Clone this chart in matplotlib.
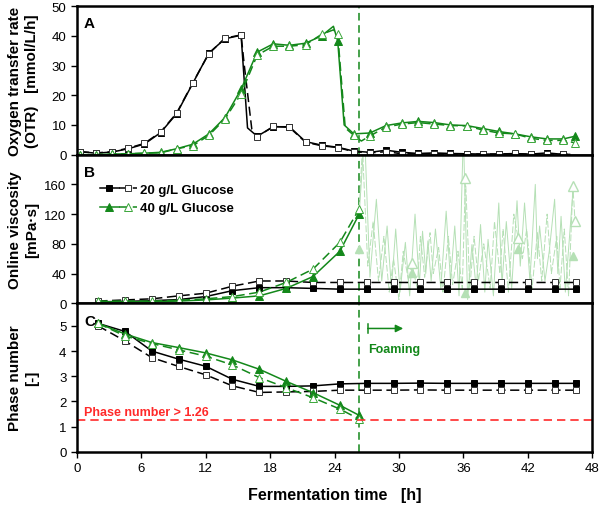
import numpy as np
import matplotlib
matplotlib.use("Agg")
import matplotlib.pyplot as plt
from matplotlib.legend_handler import HandlerTuple

plt.rcParams["font.family"] = ["Liberation Sans", "DejaVu Sans"]

GREEN = "#13881a"
LIGHT = "#b5e0b5"
RED = "#ff2a2a"

# ---------------- A: oxygen transfer rate ----------------
otr_t = [0.3, 1.8, 3.3, 4.8, 6.3, 7.8, 9.3, 10.8, 12.3, 13.8, 15.3, 16.8, 18.3, 19.8,
         21.3, 22.8, 24.3, 25.8, 27.3, 28.8, 30.3, 31.8, 33.3, 34.8, 36.3, 37.8, 39.3,
         40.8, 42.3, 43.8, 45.3]
otr20_fill = [1.0, 0.5, 0.9, 2.0, 3.6, 7.4, 13.8, 24.0, 34.2, 39.0, 40.2, 6.2, 9.4, 9.4,
              4.4, 3.2, 2.5, 1.2, 0.8, 1.5, 0.8, 0.4, 0.6, 0.4, 0.3, 0.2, 0.2, 0.3, 0.2, 0.6, 0.1]
otr20_open = [1.0, 0.6, 1.0, 2.2, 3.8, 7.6, 14.0, 24.2, 34.0, 39.2, 40.3, 6.0, 9.5, 9.2,
              4.2, 3.0, 2.4, 1.0, 0.6, 1.0, 0.3, 0.3, 0.3, 0.2, 0.2, 0.2, 0.2, 0.4, 0.1, 0.3, 0.1]
otr40_t = otr_t + [46.4]
otr40_fill = [0.0, 0.0, 0.2, 0.3, 0.5, 0.8, 2.0, 3.5, 7.0, 12.5, 22.0, 34.5, 37.3, 36.8,
              37.5, 40.0, 38.2, 7.0, 7.3, 9.8, 10.7, 11.2, 10.8, 10.0, 9.8, 8.8, 7.8, 7.0,
              6.0, 5.3, 5.3, 6.2]
otr40_open = [0.0, 0.0, 0.2, 0.3, 0.5, 0.6, 2.0, 3.0, 6.5, 12.0, 20.5, 33.5, 36.5, 36.5,
              37.0, 40.5, 40.5, 6.5, 6.3, 9.3, 10.3, 10.8, 10.3, 9.8, 9.7, 8.3, 7.3, 7.0,
              5.5, 4.8, 4.8, 4.0]
# extra line points without markers (fast drops, peaks, line ends)
otr20_fill_x = ([15.9, 45.9], [9.0, 0.1])
otr20_open_x = ([15.6, 16.3, 45.9], [30.0, 8.5, 0.1])
otr40_fill_x = ([23.9, 24.9], [43.2, 10.0])
otr40_open_x = ([23.9, 25.0, 26.5], [42.0, 9.0, 4.6])

# ---------------- B: online viscosity ----------------
visc_t20 = [2, 4.5, 7, 9.5, 12, 14.5, 17, 19.5, 22, 24.5, 27, 29.5, 32, 34.5, 37, 39.5,
            42, 44.5, 46.5]
visc20_fill = [2, 2.5, 3.5, 5, 9, 17, 21, 21, 20, 19, 19, 19, 19, 19, 19, 19, 19, 19, 19]
visc20_open = [3, 4.5, 6, 10, 13.5, 23, 30, 30, 28, 28, 28, 28, 28, 28, 28, 28, 28, 28, 28]
visc_t40 = [2, 4.5, 7, 9.5, 12, 14.5, 17, 19.5, 22, 24.5, 26.3]
visc40_fill = [2, 2, 2, 3, 4.5, 7, 10, 20, 36, 70, 120]
visc40_open = [3, 3, 3, 4, 6, 9, 15, 28, 46, 82, 127]

# viscosity after foaming started (faded)
foam_a_t = [26.3, 26.8, 27.3, 27.9, 28.4, 28.9, 29.3, 29.7, 30.1, 30.6, 31.0, 31.5, 31.9,
            32.2, 32.5, 32.7, 33.0, 33.4, 33.9, 34.4, 34.8, 35.2, 35.6, 36.0, 36.4, 36.8,
            37.2, 37.6, 38.0, 38.3, 38.8, 39.3, 39.6, 40.0, 40.5, 41.0, 41.3, 41.7, 42.2,
            42.7, 42.9, 43.1, 43.6, 44.0, 44.5, 44.8, 45.1, 45.5, 46.2]
foam_a = [120, 230, 35, 140, 30, 104, 20, 100, 15, 82, 10, 120, 25, 97, 40, 84, 30, 100,
          20, 124, 30, 104, 10, 230, 5, 79, 20, 106, 15, 86, 10, 135, 25, 110, 20, 138, 50,
          135, 30, 160, 60, 104, 30, 70, 140, 40, 117, 15, 150]
foam_b_t = [26.3, 26.6, 27.1, 27.6, 28.1, 28.6, 29.1, 29.5, 30.0, 30.4, 30.9, 31.2, 31.7,
            32.0, 32.4, 32.9, 33.2, 33.7, 34.1, 34.6, 35.0, 35.5, 35.9, 36.2, 36.6, 37.0,
            37.4, 37.9, 38.5, 38.9, 39.4, 39.7, 40.2, 40.7, 41.1, 41.5, 41.9, 42.4, 42.9,
            43.3, 43.8, 44.2, 44.7, 45.0, 45.4, 45.8, 46.2, 46.4]
foam_b = [127, 210, 50, 110, 30, 90, 15, 60, 5, 70, 30, 54, 20, 90, 35, 95, 40, 75, 15, 90,
          25, 70, 20, 169, 20, 90, 30, 80, 20, 110, 40, 100, 15, 120, 88, 60, 100, 20, 95,
          30, 120, 40, 90, 20, 100, 10, 158, 111]
foam_fill_t = [26.3, 31.2, 36.2, 41.1, 46.2]
foam_fill = [73, 41, 14, 73, 64]
foam_open_t = [31.2, 36.2, 41.1, 46.2, 46.4]
foam_open = [54, 169, 88, 158, 111]

# ---------------- C: phase number ----------------
phase20_fill = [5.1, 4.78, 4.0, 3.68, 3.4, 2.88, 2.6, 2.6, 2.62, 2.7, 2.72, 2.72, 2.73,
                2.72, 2.72, 2.72, 2.72, 2.72, 2.72]
phase20_open = [5.0, 4.4, 3.74, 3.39, 3.06, 2.62, 2.36, 2.38, 2.4, 2.45, 2.45, 2.45, 2.46,
                2.45, 2.45, 2.45, 2.45, 2.45, 2.45]
phase40_fill = [5.1, 4.68, 4.34, 4.14, 3.93, 3.65, 3.28, 2.8, 2.35, 1.85, 1.45]
phase40_open = [5.1, 4.6, 4.3, 4.05, 3.8, 3.45, 2.95, 2.55, 2.15, 1.7, 1.3]

PHASE_LIMIT = 1.26
FOAM_START = 26.3


def merge(t, y, extra):
    """merge marker points with extra line-only points, return marker indices"""
    tt = list(t) + list(extra[0])
    yy = list(y) + list(extra[1])
    order = np.argsort(tt, kind="stable")
    marks = [i for i, k in enumerate(order) if k < len(t)]
    return np.array(tt)[order], np.array(yy)[order], marks


DASH = (0, (6, 3))
STYLE = {
    "fill20": dict(color="black", ls="-", marker="s", ms=4.3, mfc="black", mec="black", mew=0.7, lw=1.1),
    "open20": dict(color="black", ls=DASH, marker="s", ms=4.6, mfc="white", mec="#333333", mew=0.7, lw=1.1),
    "fill40": dict(color=GREEN, ls="-", marker="^", ms=5.6, mfc=GREEN, mec=GREEN, mew=0.7, lw=1.1),
    "open40": dict(color=GREEN, ls=DASH, marker="^", ms=6.2, mfc="white", mec="#3aa63a", mew=0.7, lw=1.1),
}

fig, axes = plt.subplots(3, 1, figsize=(6.0, 5.06), dpi=100, sharex=True)
fig.subplots_adjust(left=0.128, right=0.987, top=0.986, bottom=0.105, hspace=0)
axA, axB, axC = axes

# --- A ---
for t, y, ex, key in [(otr_t, otr20_fill, otr20_fill_x, "fill20"),
                      (otr_t, otr20_open, otr20_open_x, "open20"),
                      (otr40_t, otr40_fill, otr40_fill_x, "fill40"),
                      (otr40_t, otr40_open, otr40_open_x, "open40")]:
    tt, yy, mk = merge(t, y, ex)
    axA.plot(tt, yy, markevery=mk, **STYLE[key])
axA.set_ylim(0, 50)
axA.set_yticks([0, 10, 20, 30, 40, 50])
axA.set_ylabel("Oxygen transfer rate\n(OTR)   [mmol/L/h]")

# --- B ---
axB.plot(foam_a_t, foam_a, color=LIGHT, lw=0.7, zorder=1)
axB.plot(foam_b_t, foam_b, color=LIGHT, lw=0.7, ls=(0, (7, 2)), zorder=1)
axB.plot(foam_fill_t, foam_fill, ls="none", marker="^", ms=6, mfc=LIGHT, mec=LIGHT, zorder=1)
axB.plot(foam_open_t, foam_open, ls="none", marker="^", ms=7, mfc="white", mec=LIGHT, zorder=1)
hB = {}
hB["fill20"], = axB.plot(visc_t20, visc20_fill, **STYLE["fill20"])
hB["open20"], = axB.plot(visc_t20, visc20_open, **STYLE["open20"])
hB["fill40"], = axB.plot(visc_t40, visc40_fill, **STYLE["fill40"])
hB["open40"], = axB.plot(visc_t40, visc40_open, **STYLE["open40"])
axB.set_ylim(0, 200)
axB.set_yticks([0, 40, 80, 120, 160])
axB.set_ylabel("Online viscosity\n[mPa\u00b7s]")
axB.legend([(hB["fill20"], hB["open20"]), (hB["fill40"], hB["open40"])],
           ["20 g/L Glucose", "40 g/L Glucose"],
           handler_map={tuple: HandlerTuple(ndivide=None, pad=0.0)},
           loc="upper left", bbox_to_anchor=(0.035, 0.84), frameon=False,
           handlelength=2.8, handletextpad=0.25, labelspacing=0.45, borderaxespad=0,
           prop={"weight": "bold", "size": 9.5})

# --- C ---
axC.plot(visc_t20, phase20_fill, **STYLE["fill20"])
axC.plot(visc_t20, phase20_open, **STYLE["open20"])
axC.plot(visc_t40, phase40_fill, **STYLE["fill40"])
axC.plot(visc_t40, phase40_open, **STYLE["open40"])
axC.axhline(PHASE_LIMIT, color=RED, lw=1.2, ls=(0, (5, 3)))
axC.text(0.7, PHASE_LIMIT + 0.08, "Phase number > 1.26", color=RED, fontsize=9,
         fontweight="bold", va="bottom", ha="left")
axC.annotate("", xy=(30.4, 4.9), xytext=(27.1, 4.9),
             arrowprops=dict(arrowstyle="-|>", color=GREEN, lw=1.1, mutation_scale=11,
                             shrinkA=0, shrinkB=0))
axC.plot([27.1, 27.1], [4.72, 5.08], color=GREEN, lw=1.1)
axC.text(27.1, 4.1, "Foaming", color=GREEN, fontsize=9, fontweight="bold",
         va="center", ha="left")
axC.set_ylim(0, 5.9)
axC.set_yticks([0, 1, 2, 3, 4, 5])
axC.set_ylabel("Phase number\n[-]")
axC.set_xlim(0, 48)
axC.set_xticks(range(0, 49, 6))
axC.set_xlabel("Fermentation time   [h]", fontsize=11.5, fontweight="bold", labelpad=9)

for ax, letter in zip(axes, "ABC"):
    ax.axvline(FOAM_START, color=GREEN, lw=1.1, ls=(0, (5, 3)), zorder=0)
    ax.text(0.014, 0.93, letter, transform=ax.transAxes, fontsize=11, fontweight="bold",
            va="top", ha="left")
    for s in ax.spines.values():
        s.set_linewidth(1.8)
    ax.tick_params(direction="out", length=4, width=1.0, labelsize=9.5)
    lab = ax.yaxis.label
    lab.set_fontsize(11)
    lab.set_fontweight("bold")
    lab.set_linespacing(1.25)
    ax.yaxis.set_label_coords(-0.074, 0.5)
for ax in (axA, axB):
    ax.tick_params(axis="x", bottom=False)

fig.savefig("out.png", dpi=100)
